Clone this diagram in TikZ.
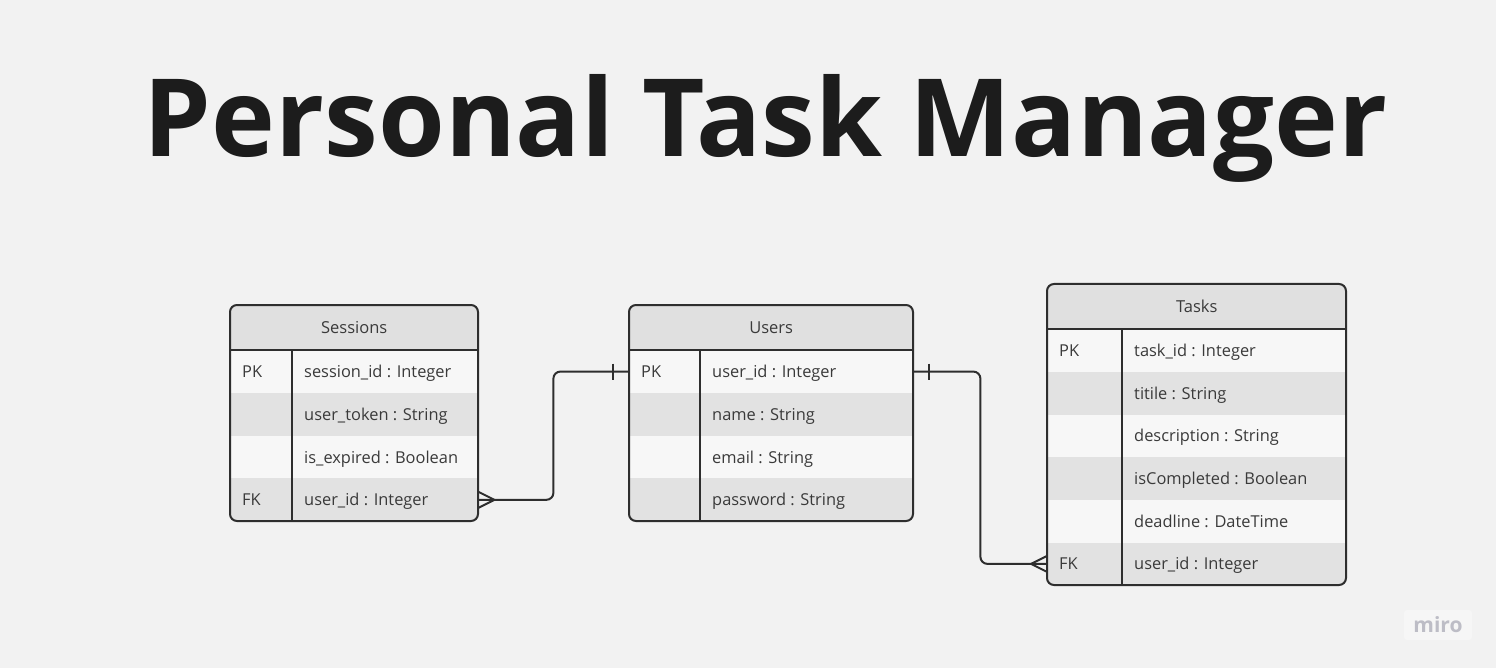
\documentclass[tikz,border=0pt]{standalone}
\usepackage{fontspec}
\setmainfont{Open Sans}
\definecolor{bg}{HTML}{F2F2F2}
\definecolor{rowA}{HTML}{F7F7F7}
\definecolor{rowB}{HTML}{E2E2E2}
\definecolor{hdrc}{HTML}{E0E0E0}
\definecolor{edge}{HTML}{2E2E2E}
\definecolor{txt}{HTML}{3A3A3A}
\definecolor{titlec}{HTML}{1C1C1C}
\definecolor{logoc}{HTML}{BDBDC6}
\definecolor{logobg}{HTML}{F6F6F6}
\newcommand{\ertable}[9]{%
  \begin{scope}
    \clip[rounded corners=7pt] (#2,#3) rectangle (#4,#5);
    \node[hdr, minimum width={#4-#2}, minimum height=45pt, anchor=north west] (#1-h) at (#2,#3) {#7};
    \foreach \k/\t/\c [count=\i] in {#8} {
      \node[rowbox, fill=\c, minimum width={#4-#2}, minimum height=#9pt] (#1-r\i) at (#2,{#3+45+(\i-1)*#9}) {};
      \node[celltxt] (#1-k\i) at ([xshift=12pt,yshift=-6pt]#1-r\i.west) {\k};
      \node[celltxt] (#1-f\i) at ([xshift=#6pt+12pt,yshift=-6pt]#1-r\i.west) {\t};
    }
  \end{scope}
  \draw[line, rounded corners=7pt] (#2,#3) rectangle (#4,#5);
  \draw[line] (#1-h.south west) -- (#1-h.south east);
  \draw[line] ([xshift=#6pt]#1-h.south west) -- (#2+#6,#5);
}
\begin{document}
\begin{tikzpicture}[x=1pt,y=-1pt,
  line/.style={draw=edge, line width=2pt},
  hdr/.style={fill=hdrc, inner sep=0pt, font=\fontsize{16.5}{20}\selectfont, text=txt},
  rowbox/.style={inner sep=0pt, anchor=north west, draw=none},
  celltxt/.style={inner sep=0pt, anchor=base west, font=\fontsize{16.4}{20}\selectfont, text=txt}]
  \fill[bg] (0,0) rectangle (1496,668);
  \useasboundingbox (0,0) rectangle (1496,668);
  \node[font=\fontsize{108}{115}\selectfont\bfseries, text=titlec, anchor=base, inner sep=0pt] (title) at (765.5,157) {Personal Task Manager};

  \ertable{s}{230}{305}{478}{521}{62}{Sessions}{PK/session\_id : Integer/rowA, /user\_token : String/rowB, /is\_expired : Boolean/rowA, FK/user\_id : Integer/rowB}{42.75}
  \ertable{u}{629}{305}{913}{521}{71}{Users}{PK/user\_id : Integer/rowA, /name : String/rowB, /email : String/rowA, /password : String/rowB}{42.75}
  \ertable{t}{1047}{284}{1346}{585}{75}{Tasks}{PK/task\_id : Integer/rowA, /titile : String/rowB, /description : String/rowA, /isCompleted : Boolean/rowB, /deadline : DateTime/rowA, FK/user\_id : Integer/rowB}{42.67}

  % Sessions -- Users
  \draw[line, rounded corners=7pt] (s-r4.east) -- ++(75,0) |- (u-r1.west);
  \draw[line] ([xshift=16pt]s-r4.east) -- ([yshift=8pt]s-r4.east);
  \draw[line] ([xshift=16pt]s-r4.east) -- ([yshift=-8pt]s-r4.east);
  \draw[line] ([xshift=-16pt,yshift=8pt]u-r1.west) -- ([xshift=-16pt,yshift=-8pt]u-r1.west);
  % Users -- Tasks
  \draw[line, rounded corners=7pt] (u-r1.east) -- ++(67,0) |- (t-r6.west);
  \draw[line] ([xshift=16pt,yshift=8pt]u-r1.east) -- ([xshift=16pt,yshift=-8pt]u-r1.east);
  \draw[line] ([xshift=-16pt]t-r6.west) -- ([yshift=8pt]t-r6.west);
  \draw[line] ([xshift=-16pt]t-r6.west) -- ([yshift=-8pt]t-r6.west);

  \node[fill=logobg, rounded corners=3pt, minimum width=68pt, minimum height=30pt, inner sep=0pt,
        text=logoc, font=\fontsize{21}{21}\selectfont\bfseries] (logo) at (1438,625) {miro};
\end{tikzpicture}
\end{document}
